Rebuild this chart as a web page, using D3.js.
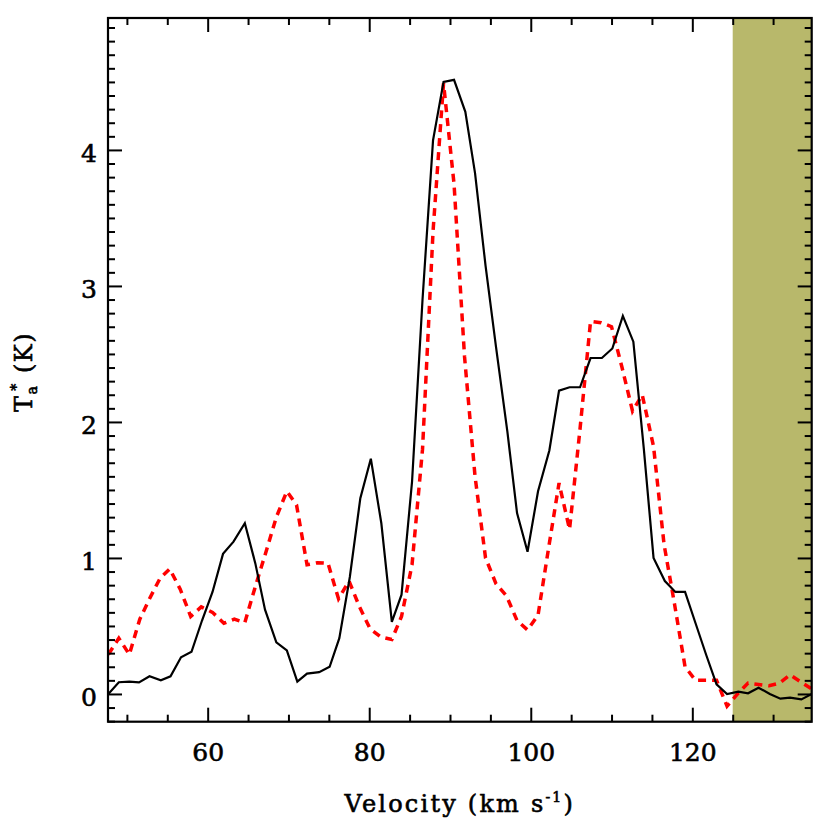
<!DOCTYPE html>
<html>
<head>
<meta charset="utf-8">
<script src="https://cdn.jsdelivr.net/npm/d3@7"></script>
<style>
  html, body { margin: 0; padding: 0; background: #ffffff; }
  svg { display: block; }
  text { font-family: "DejaVu Serif", serif; fill: #000; stroke: #000; stroke-width: 0.6px; }
</style>
</head>
<body>
<div id="chart"></div>
<script>
// ---- Data ----
const velocityBlack = [47.7,49.0,50.3,51.5,52.8,54.2,55.4,56.7,58.0,59.3,60.6,61.9,63.2,64.6,65.9,67.1,68.5,69.8,71.1,72.3,73.8,75.1,76.3,77.6,78.9,80.2,81.5,82.8,84.0,85.3,86.6,87.9,89.2,90.5,91.9,93.1,94.4,95.7,97.1,98.3,99.6,100.9,102.3,103.5,104.8,106.1,107.4,108.8,110.1,111.4,112.7,114.0,115.2,116.6,117.9,119.1,120.4,121.7,123.0,124.3,125.7,126.9,128.2,129.6,130.9,132.1,133.5,134.8];
const tempBlack = [0.0,0.086,0.09,0.085,0.13,0.10,0.13,0.27,0.31,0.54,0.75,1.03,1.12,1.255,0.96,0.62,0.38,0.32,0.09,0.15,0.16,0.20,0.41,0.86,1.44,1.73,1.255,0.53,0.73,1.56,2.9,4.07,4.50,4.515,4.28,3.83,3.15,2.55,1.93,1.33,1.046,1.49,1.79,2.23,2.255,2.255,2.47,2.47,2.54,2.78,2.59,1.8,1.0,0.83,0.75,0.75,0.52,0.29,0.07,0.0,0.017,0.005,0.046,0.0,-0.035,-0.027,-0.04,0.0];

const velocityRed = [47.7,49.0,50.3,51.6,52.8,54.1,55.3,56.6,57.9,59.2,60.6,62.0,63.3,64.6,66.0,67.3,68.5,69.8,71.0,72.3,73.6,74.9,76.2,77.5,78.8,80.1,81.4,82.8,84.0,85.3,86.6,87.9,89.2,90.5,91.8,93.1,94.4,95.7,97.0,98.3,99.6,100.9,102.2,103.5,104.8,106.1,107.4,108.7,110.0,111.3,112.6,113.8,115.2,116.5,117.8,119.1,120.4,121.7,123.0,124.3,125.6,126.9,128.2,129.5,130.8,132.1,133.4,134.7];
const tempRed = [0.29,0.41,0.29,0.55,0.70,0.85,0.92,0.77,0.57,0.64,0.60,0.52,0.55,0.525,0.81,1.06,1.30,1.49,1.39,0.95,0.965,0.96,0.70,0.83,0.64,0.48,0.42,0.40,0.57,0.95,1.80,3.40,4.49,3.75,2.48,1.60,1.0,0.81,0.72,0.54,0.47,0.58,1.07,1.55,1.21,1.95,2.74,2.73,2.70,2.40,2.08,2.2,1.82,1.1,0.66,0.2,0.10,0.10,0.10,-0.09,0.0,0.08,0.07,0.06,0.08,0.14,0.09,0.04];

const xDomain = [47.66, 134.78];
const yDomain = [-0.204, 4.970];
const shadeStart = 125;
const xMajorTicks = [60, 80, 100, 120];
const xMinorTicks = [50, 55, 65, 70, 75, 85, 90, 95, 105, 110, 115, 125, 130];
const yMajorTicks = [0, 1, 2, 3, 4];
const yMinorTicks = d3.range(-2, 50).map(d => d / 10).filter(d => d % 1 !== 0);

// ---- Layout ----
const W = 830, H = 830;
const margin = { left: 108, top: 18, right: 18.3, bottom: 108.3 };
const iw = W - margin.left - margin.right;
const ih = H - margin.top - margin.bottom;

const svg = d3.select("#chart").append("svg").attr("width", W).attr("height", H);
const g = svg.append("g").attr("transform", `translate(${margin.left},${margin.top})`);

const x = d3.scaleLinear().domain(xDomain).range([0, iw]);
const y = d3.scaleLinear().domain(yDomain).range([ih, 0]);

svg.append("defs").append("clipPath").attr("id", "clip")
  .append("rect").attr("width", iw).attr("height", ih);

// shaded region
g.append("rect")
  .attr("x", x(shadeStart)).attr("y", 0)
  .attr("width", iw - x(shadeStart)).attr("height", ih)
  .attr("fill", "#b8b86b");

const plot = g.append("g").attr("clip-path", "url(#clip)");

const line = d3.line().x(d => x(d[0])).y(d => y(d[1]));

plot.append("path")
  .datum(velocityRed.map((v, i) => [v, tempRed[i]]))
  .attr("d", line)
  .attr("fill", "none").attr("stroke", "#ff0000")
  .attr("stroke-width", 3.5).attr("stroke-dasharray", "8,6");

plot.append("path")
  .datum(velocityBlack.map((v, i) => [v, tempBlack[i]]))
  .attr("d", line)
  .attr("fill", "none").attr("stroke", "#000")
  .attr("stroke-width", 2.2).attr("stroke-linejoin", "miter");

// ---- Axes ----
function styleAxis(sel) {
  sel.select(".domain").remove();
  sel.selectAll(".tick line").attr("stroke", "#000").attr("stroke-width", 2);
  sel.selectAll(".tick text").attr("font-size", 25).attr("font-family", "DejaVu Serif");
}

// bottom
g.append("g").attr("transform", `translate(0,${ih})`)
  .call(d3.axisBottom(x).tickValues(xMinorTicks).tickSize(-7).tickFormat(""))
  .call(styleAxis);
const xb = g.append("g").attr("transform", `translate(0,${ih})`)
  .call(d3.axisBottom(x).tickValues(xMajorTicks).tickSize(-14).tickPadding(21.5).tickFormat(d3.format("d")))
  .call(styleAxis);
// top
g.append("g")
  .call(d3.axisTop(x).tickValues(xMinorTicks).tickSize(-7).tickFormat(""))
  .call(styleAxis);
g.append("g")
  .call(d3.axisTop(x).tickValues(xMajorTicks).tickSize(-14).tickFormat(""))
  .call(styleAxis);
// left
g.append("g")
  .call(d3.axisLeft(y).tickValues(yMinorTicks).tickSize(-7).tickFormat(""))
  .call(styleAxis);
const yl = g.append("g")
  .call(d3.axisLeft(y).tickValues(yMajorTicks).tickSize(-14).tickPadding(11).tickFormat(d3.format("d")))
  .call(styleAxis);
yl.selectAll(".tick text").attr("dy", "0.46em");
// right
g.append("g").attr("transform", `translate(${iw},0)`)
  .call(d3.axisRight(y).tickValues(yMinorTicks).tickSize(-7).tickFormat(""))
  .call(styleAxis);
g.append("g").attr("transform", `translate(${iw},0)`)
  .call(d3.axisRight(y).tickValues(yMajorTicks).tickSize(-14).tickFormat(""))
  .call(styleAxis);

// frame
g.append("rect").attr("width", iw).attr("height", ih)
  .attr("fill", "none").attr("stroke", "#000").attr("stroke-width", 2.2);

// ---- Titles ----
const xt = svg.append("text")
  .attr("x", margin.left + iw / 2).attr("y", 812)
  .attr("text-anchor", "middle").attr("font-size", 24)
  .attr("letter-spacing", 2.2);
xt.append("tspan").text("Velocity (km s");
xt.append("tspan").attr("font-size", 14).attr("dy", -10).text("-1");
xt.append("tspan").attr("dy", 10).text(")");

const yt = svg.append("text")
  .attr("transform", "translate(32,372) rotate(-90)")
  .attr("text-anchor", "middle").attr("font-size", 24)
  .attr("letter-spacing", 1.5);
yt.append("tspan").text("T");
yt.append("tspan").attr("font-size", 14).attr("dy", 5).text("a");
yt.append("tspan").attr("font-size", 14).attr("dy", -16).attr("dx", -6).text("*");
yt.append("tspan").attr("dy", 11).text(" (K)");
</script>
</body>
</html>
